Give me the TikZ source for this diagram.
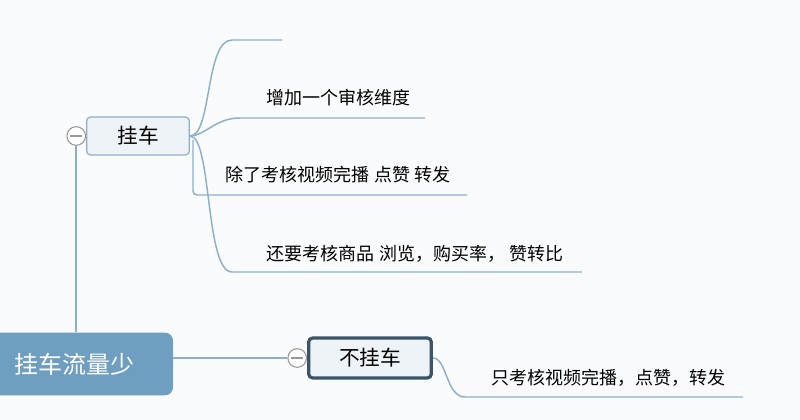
\documentclass[tikz,border=0pt]{standalone}
\usepackage{fontspec}
\setmainfont{Noto Sans CJK SC}
\usetikzlibrary{positioning,calc,backgrounds}
\definecolor{rootblue}{HTML}{6E9EC0}
\definecolor{branchline}{HTML}{8DB0CA}
\definecolor{topicfill}{HTML}{EEF3F8}
\definecolor{darkframe}{HTML}{3B5467}
\definecolor{bgpaper}{HTML}{FAFBFC}

\begin{document}
\begin{tikzpicture}[
		x=0.75pt, y=-0.75pt,
		root/.style={fill=rootblue, rounded corners=6pt, text=white, minimum width=148.5pt, minimum height=47pt, font=\fontsize{18}{20}\selectfont},
		topic/.style={draw=branchline, fill=topicfill, rounded corners=3pt, line width=0.9pt, minimum width=77pt, minimum height=28.5pt, font=\fontsize{15.5}{18}\selectfont},
		subtopic/.style={draw=darkframe, fill=topicfill, rounded corners=3pt, line width=2.4pt, minimum width=92pt, minimum height=30pt, font=\fontsize{15.5}{18}\selectfont},
		leaf/.style={inner sep=0pt, font=\fontsize{13.5}{16}\selectfont},
		fold/.style={circle, draw=gray!80, fill=white, line width=0.8pt, minimum size=14pt, inner sep=0pt, path picture={\draw[gray!80, line width=0.8pt] ($(path picture bounding box.west)+(2.5pt,0)$) -- ($(path picture bounding box.east)+(-2.5pt,0)$);}},
		branch/.style={draw=branchline, line width=1.1pt}
		]
		
		\useasboundingbox (0,0) rectangle (800,420);
		
		% main topic, cut by the left edge
		\node[root] (liuliang) at (74,364) {挂车流量少};
		
		% first subtopic and its leaves
		\node[topic] (guache) at (138,136) {挂车};
		\node[fold, left=0pt of guache] (foldA) {};
		
		\coordinate (b1s) at (232,40);   \coordinate (b1e) at (282,40);
		\coordinate (b2s) at (240,118);  \coordinate (b2e) at (425,118);
		\coordinate (b3s) at (193,140);  \coordinate (b3e) at (467,195);
		\coordinate (b4s) at (232,272);  \coordinate (b4e) at (582,272);
		
		\node[leaf] (weidu) at (338,98) {增加一个审核维度};
		\node[leaf] (wanbo) at (338,175) {除了考核视频完播 点赞 转发};
		\node[leaf] (shangpin) at (415,254) {还要考核商品 浏览，购买率， 赞转比};
		
		% second subtopic
		\node[subtopic] (buguache) at (370,358) {不挂车};
		\node[fold, left=0pt of buguache] (foldB) {};
		\coordinate (b5s) at (465,397);  \coordinate (b5e) at (743,397);
		\node[leaf] (zhikaohe) at (608,378) {只考核视频完播，点赞，转发};
		
		% connectors, behind the boxes
		\begin{scope}[on background layer]
		\fill[bgpaper] (0,0) rectangle (800,420);
		\draw[branch] (liuliang.north -| foldA.south) -- (foldA.south);
		\draw[branch] (liuliang.east |- foldB.west) -- (foldB.west);
		\draw[branch] (guache.east) .. controls (212,136) and (205,40) .. (b1s) -- (b1e);
		\draw[branch] (guache.east) .. controls (205,136) and (215,118) .. (b2s) -- (b2e);
		\draw[branch, rounded corners=3pt] (b3s) |- (b3e);
		\draw[branch] (guache.east) .. controls (212,136) and (205,272) .. (b4s) -- (b4e);
		\draw[branch] (buguache.east) .. controls (447,358) and (446,397) .. (b5s) -- (b5e);
		\end{scope}
		
	\end{tikzpicture}
\end{document}
